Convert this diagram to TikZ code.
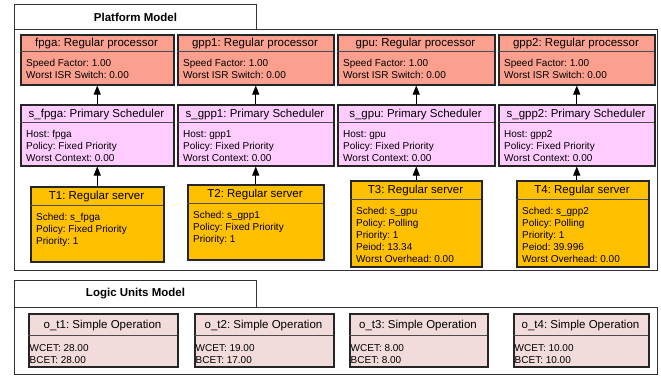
\documentclass[tikz,border=0pt]{standalone}
\usepackage{fontspec}
\setmainfont{Liberation Sans}
\frenchspacing
\usetikzlibrary{arrows.meta}
\definecolor{procred}{RGB}{251,160,143}
\definecolor{schedpink}{RGB}{255,204,255}
\definecolor{servergold}{RGB}{255,192,0}
\definecolor{operpink}{RGB}{242,220,219}
\tikzset{
	box/.style={draw=black!85, line width=1.5pt, anchor=north west, inner sep=0pt},
	proc/.style={fill=procred}, proc text/.style={},
	sched/.style={fill=schedpink}, sched text/.style={},
	server/.style={fill=servergold}, server text/.style={},
	oper/.style={fill=operpink}, oper text/.style={inner xsep=1.5pt, inner ysep=9.5pt},
	sepline/.style={draw=black!70, line width=0.8pt},
	head/.style={anchor=base, inner sep=0pt, font=\fontsize{11.5}{13}\selectfont},
	body/.style={anchor=north west, align=left, inner xsep=6pt, inner ysep=8pt, font=\fontsize{10}{12}\selectfont},
	link/.style={-{Triangle[width=7pt,length=9pt]}, line width=0.9pt},
	frame/.style={draw=black!80, line width=1pt},
	tab/.style={frame, anchor=north west, minimum width=242pt, minimum height=25pt, inner sep=0pt, font=\bfseries\fontsize{11.5}{13}\selectfont}
}
% box with a title part and a body part: [kind](name)(x1,y1)(x2,y2:y of the split){title}{body}
\def\umlbox[#1](#2)(#3,#4)(#5,#6:#7)#8#9{%
	\node[box,#1,minimum width={#5-#3},minimum height={#6-#4}] (#2) at (#3,#4) {};
	\draw[sepline] (#3,#7) -- (#5,#7);
	\node[head] (#2-h) at ({(#3+#5)/2},{(#4+#7)/2+4}) {#8};
	\node[body,#1 text] (#2-b) at (#3,#7) {#9};
}

\begin{document}
\begin{tikzpicture}[x=1pt,y=-1pt]
		\useasboundingbox[fill=white] (0,0) rectangle (661,375);
		%%%%% PLATFORM %%%%%
		\draw[frame] (14,29) rectangle (657,270);
		\node[tab] (platform) at (14,4) {Platform Model};
		
		\umlbox[proc](fpga)(20,34)(173,84:51){fpga: Regular processor}{Speed Factor: 1.00\\Worst ISR Switch: 0.00}
		\umlbox[proc](gpp1)(177,34)(333,84:51){gpp1: Regular processor}{Speed Factor: 1.00\\Worst ISR Switch: 0.00}
		\umlbox[proc](gpu)(337,34)(494,84:51){gpu: Regular processor}{Speed Factor: 1.00\\Worst ISR Switch: 0.00}
		\umlbox[proc](gpp2)(498,34)(654,84:51){gpp2: Regular processor}{Speed Factor: 1.00\\Worst ISR Switch: 0.00}
		
		\umlbox[sched](sfpga)(20,104)(173,165:122){s\_fpga: Primary Scheduler}{Host: fpga\\Policy: Fixed Priority\\Worst Context: 0.00}
		\umlbox[sched](sgpp1)(177,104)(333,165:122){s\_gpp1: Primary Scheduler}{Host: gpp1\\Policy: Fixed Priority\\Worst Context: 0.00}
		\umlbox[sched](sgpu)(337,104)(494,165:122){s\_gpu: Primary Scheduler}{Host: gpu\\Policy: Fixed Priority\\Worst Context: 0.00}
		\umlbox[sched](sgpp2)(498,104)(654,165:122){s\_gpp2: Primary Scheduler}{Host: gpp2\\Policy: Fixed Priority\\Worst Context: 0.00}
		
		\umlbox[server](T1)(30,186)(163,261:205){T1: Regular server}{Sched: s\_fpga\\Policy: Fixed Priority\\Priority: 1}
		\umlbox[server](T2)(187,184)(323,259:203){T2: Regular server}{Sched: s\_gpp1\\Policy: Fixed Priority\\Priority: 1}
		\umlbox[server](T3)(350,180)(481,266:199){T3: Regular server}{Sched: s\_gpu\\Policy: Polling\\Priority: 1\\Peiod: 13.34\\Worst Overhead: 0.00}
		\umlbox[server](T4)(516,180)(648,266:199){T4: Regular server}{Sched: s\_gpp2\\Policy: Polling\\Priority: 1\\Peiod: 39.996\\Worst Overhead: 0.00}
		
		\draw[link] (sfpga.north) -- (fpga.south);
		\draw[link] (sgpp1.north) -- (gpp1.south);
		\draw[link] (sgpu.north) -- (gpu.south);
		\draw[link] (sgpp2.north) -- (gpp2.south);
		\draw[link] (sfpga.south |- T1.north) -- (sfpga.south);
		\draw[link] (sgpp1.south |- T2.north) -- (sgpp1.south);
		\draw[link] (sgpu.south |- T3.north) -- (sgpu.south);
		\draw[link] (sgpp2.south |- T4.north) -- (sgpp2.south);
		
		%%%%% LOGIC UNITS %%%%%
		\draw[frame] (14,307) rectangle (657,374);
		\node[tab, minimum height=27pt] (logic) at (14,280) {Logic Units Model};
		
		\umlbox[oper](ot1)(28,313)(177,366:335){o\_t1: Simple Operation}{WCET: 28.00\\BCET: 28.00}
		\umlbox[oper](ot2)(194,313)(333,366:335){o\_t2: Simple Operation}{WCET: 19.00\\BCET: 17.00}
		\umlbox[oper](ot3)(349,313)(487,366:335){o\_t3: Simple Operation}{WCET: 8.00\\BCET: 8.00}
		\umlbox[oper](ot4)(513,313)(648,366:335){o\_t4: Simple Operation}{WCET: 10.00\\BCET: 10.00}
	\end{tikzpicture}
\end{document}
